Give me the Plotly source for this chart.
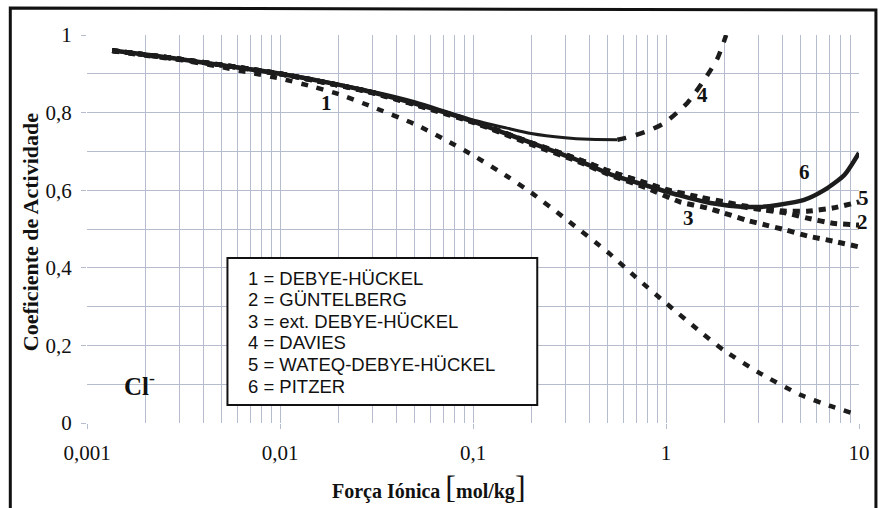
import plotly.graph_objects as go

# ---- data ----
x_tickvals = [0.001, 0.01, 0.1, 1, 10]
x_ticktext = ["0,001", "0,01", "0,1", "1", "10"]
y_tickvals = [0, 0.2, 0.4, 0.6, 0.8, 1]
y_ticktext = ["0", "0,2", "0,4", "0,6", "0,8", "1"]

I1 = [0.00135, 0.002, 0.003, 0.005, 0.007, 0.01, 0.015, 0.02, 0.03, 0.05, 0.07, 0.1,
      0.15, 0.2, 0.3, 0.5, 0.7, 1, 1.5, 2, 3, 5, 7, 10]
g1 = [0.959, 0.947, 0.936, 0.917, 0.903, 0.888, 0.866, 0.848, 0.815, 0.770, 0.733, 0.690,
      0.636, 0.594, 0.527, 0.440, 0.375, 0.309, 0.236, 0.187, 0.131, 0.072, 0.045, 0.020]

I2 = [0.00135, 0.003, 0.01, 0.03, 0.1, 0.2, 0.35, 0.52, 0.78, 1.0, 1.5, 2.0, 2.5, 3.2, 4.2, 5.4, 7.3, 10]
g2 = [0.960, 0.938, 0.900, 0.852, 0.777, 0.722, 0.680, 0.647, 0.619, 0.600, 0.580, 0.568, 0.557,
      0.549, 0.541, 0.528, 0.515, 0.510]

I3 = [0.00135, 0.003, 0.01, 0.03, 0.1, 0.2, 0.35, 0.52, 0.78, 1.18, 1.64, 2.0, 2.6, 3.3, 4.2, 5.4, 7.3, 10]
g3 = [0.960, 0.938, 0.900, 0.851, 0.775, 0.718, 0.674, 0.638, 0.607, 0.570, 0.554, 0.541, 0.523,
      0.510, 0.497, 0.482, 0.469, 0.454]

I4_solid = [0.00135, 0.003, 0.01, 0.03, 0.05, 0.1, 0.15, 0.2, 0.3, 0.4, 0.56]
g4_solid = [0.960, 0.938, 0.902, 0.855, 0.828, 0.781, 0.760, 0.746, 0.735, 0.731, 0.730]
I4_dash = [0.56, 0.62, 0.78, 0.98, 1.29, 1.64, 1.85, 2.05]
g4_dash = [0.730, 0.735, 0.750, 0.773, 0.825, 0.897, 0.940, 1.0]

I5 = [0.00135, 0.003, 0.01, 0.03, 0.1, 0.2, 0.35, 0.52, 0.78, 1.0, 1.5, 2.0, 2.5, 3.2, 4.2, 5.4, 7.3, 10]
g5 = [0.960, 0.938, 0.900, 0.852, 0.777, 0.722, 0.680, 0.647, 0.619, 0.602, 0.582, 0.570, 0.560,
      0.552, 0.546, 0.546, 0.554, 0.570]

I6 = [0.00135, 0.002, 0.003, 0.005, 0.01, 0.02, 0.03, 0.05, 0.1, 0.2, 0.35, 0.52, 0.78, 1.15,
      1.7, 2.55, 3.1, 3.8, 5.2, 6.6, 8.4, 10]
g6 = [0.960, 0.950, 0.938, 0.922, 0.900, 0.872, 0.852, 0.823, 0.777, 0.722, 0.677, 0.640, 0.613,
      0.588, 0.567, 0.557, 0.557, 0.562, 0.575, 0.600, 0.639, 0.696]

legend_lines = ["1 = DEBYE-HÜCKEL", "2 = GÜNTELBERG", "3 = ext. DEBYE-HÜCKEL",
                "4 = DAVIES", "5 = WATEQ-DEBYE-HÜCKEL", "6 = PITZER"]
# curve number labels: (text, pixel x, pixel y) in the figure
curve_labels = [("1", 327, 103), ("4", 705, 95), ("6", 807, 172),
                ("5", 867, 198), ("2", 866, 222), ("3", 691, 218)]

INK = "#1c1c1c"
GRID = "#b4bccd"
SERIF = "Liberation Serif"

fig = go.Figure()

def add(x, y, width, dash, smooth=0.6):
    fig.add_trace(go.Scatter(x=x, y=y, mode="lines",
                             line=dict(color=INK, width=width, dash=dash,
                                       shape="spline", smoothing=smooth),
                             hoverinfo="skip", showlegend=False))

add(I1, g1, 4.5, "7px,9px")
add(I3, g3, 5, "7px,6px")
add(I2, g2, 5, "7px,6px")
add(I5, g5, 5, "7px,6px")
add(I4_solid, g4_solid, 3, "solid")
add(I4_dash, g4_dash, 4.5, "9px,10px")
add(I6, g6, 4.5, "solid")

# ---- layout geometry helpers (pixel -> paper) ----
L, R, T, B = 87, 20, 35, 85
W, H = 882, 508
pw, ph = W - L - R, H - T - B
def px(x):
    return (x - L) / pw
def py(y):
    return (H - B - y) / ph

shapes = []
shapes.append(dict(type="path", xref="paper", yref="paper",
                   path=f"M {px(10)} {py(512)} L {px(10)} {py(8)} L {px(879)} {py(10)} L {px(879)} {py(512)}",
                   line=dict(color="#111111", width=3)))
shapes.append(dict(type="rect", xref="paper", yref="paper",
                   x0=px(228), x1=px(539), y0=py(405), y1=py(258),
                   fillcolor="white", line=dict(color="#111111", width=2), layer="above"))

annotations = []
for i, t in enumerate(legend_lines):
    annotations.append(dict(xref="paper", yref="paper", x=px(247), y=py(278 + i * 21.6),
                            text=t, showarrow=False, xanchor="left", yanchor="middle",
                            font=dict(family="Liberation Sans", size=18.5, color="#111111")))
for t, xp, yp in curve_labels:
    annotations.append(dict(xref="paper", yref="paper", x=px(xp), y=py(yp), text=f"<b>{t}</b>",
                            showarrow=False, xanchor="center", yanchor="middle",
                            font=dict(family=SERIF, size=21, color="#111111")))
annotations.append(dict(xref="paper", yref="paper", x=px(140), y=py(384),
                        text="<b>Cl</b><sup><b>-</b></sup>", showarrow=False,
                        xanchor="center", yanchor="middle",
                        font=dict(family=SERIF, size=25, color="#111111")))
annotations.append(dict(xref="paper", yref="paper", x=px(430), y=py(487),
                        text="<b>Força Iónica</b> <span style='font-size:32px'>[</span><b>mol/kg</b><span style='font-size:32px'>]</span>",
                        showarrow=False, xanchor="center", yanchor="middle",
                        font=dict(family=SERIF, size=20, color="#111111")))
annotations.append(dict(xref="paper", yref="paper", x=px(30), y=py(232),
                        text="<b>Coeficiente de Actividade</b>", textangle=-90,
                        showarrow=False, xanchor="center", yanchor="middle",
                        font=dict(family=SERIF, size=22, color="#111111")))

fig.update_layout(
    width=W, height=H,
    margin=dict(l=L, r=R, t=T, b=B),
    paper_bgcolor="white", plot_bgcolor="white",
    hovermode=False,
    shapes=shapes, annotations=annotations,
    xaxis=dict(type="log", range=[-3, 1], tickvals=x_tickvals, ticktext=x_ticktext,
               showgrid=True, gridcolor=GRID, gridwidth=1,
               minor=dict(dtick="D1", showgrid=True, gridcolor=GRID, gridwidth=1),
               ticks="outside", ticklen=5, tickcolor=GRID,
               showline=False, zeroline=False,
               tickfont=dict(family=SERIF, size=21, color="#111111"),
               ticklabelstandoff=6),
    yaxis=dict(range=[0, 1], tickvals=y_tickvals, ticktext=y_ticktext,
               showgrid=True, gridcolor=GRID, gridwidth=1,
               minor=dict(dtick=0.1, showgrid=True, gridcolor=GRID, gridwidth=1),
               ticks="outside", ticklen=5, tickcolor=GRID,
               showline=False, zeroline=False,
               tickfont=dict(family=SERIF, size=21, color="#111111"),
               ticklabelstandoff=5),
)

fig.write_html("out.html")
